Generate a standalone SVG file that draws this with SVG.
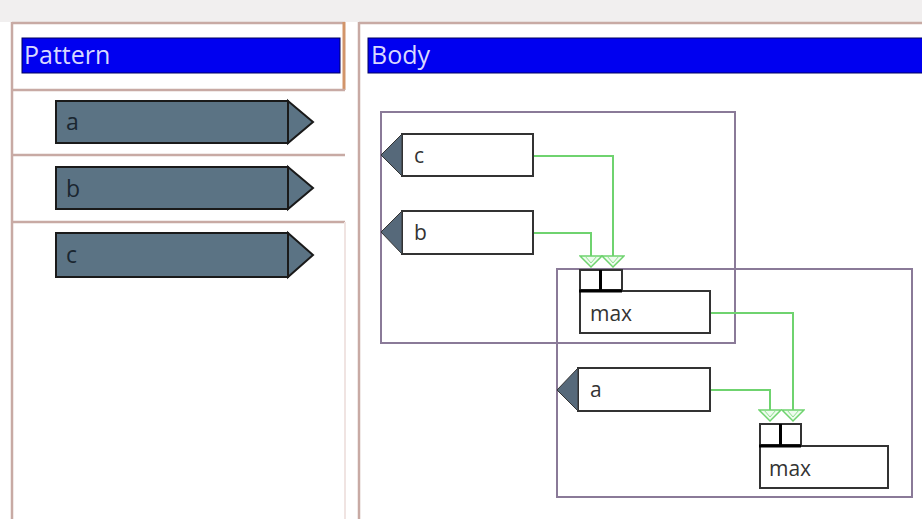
<svg xmlns="http://www.w3.org/2000/svg" width="922" height="519" viewBox="0 0 922 519">
<style>
.hdr{fill:#0000f0;stroke:#000060;stroke-width:1}
.hdrt{font-family:"Open Sans","DejaVu Sans",sans-serif;font-size:25px;fill:#d8d8ff}
.pat{fill:#5b7384;stroke:#1a1a1a;stroke-width:2}
.patt{font-family:"Open Sans","DejaVu Sans",sans-serif;font-size:23px;fill:#1a2630}
.box{fill:#ffffff;stroke:#333;stroke-width:2}
.lbl{font-family:"Open Sans","DejaVu Sans",sans-serif;font-size:21px;fill:#333}
.tri{fill:#56697a;stroke:#333;stroke-width:1}
.grp{fill:none;stroke:#8a7a98;stroke-width:2}
.wire{fill:none;stroke:#6fd36f;stroke-width:2}
.sep{stroke:#c8aaa4;stroke-width:2.5}
</style>
<defs>
<marker id="ah" markerWidth="24" markerHeight="14" refX="12" refY="12" orient="0" markerUnits="userSpaceOnUse">
<path d="M1,1 L23,1 L12,12 Z" fill="#eefbee" stroke="#6fd36f" stroke-width="1.5"/>
<path d="M6,1 L12,8 L18,1" fill="none" stroke="#8fe08f" stroke-width="1"/>
</marker>
</defs>
<rect x="0" y="0" width="922" height="519" fill="#ffffff"/>
<rect x="0" y="0" width="922" height="22" fill="#f1efef"/>
<g id="pattern-panel">
<line class="sep" x1="12" y1="23" x2="345" y2="23"/>
<line class="sep" x1="12" y1="22" x2="12" y2="519"/>
<line x1="344" y1="22" x2="344" y2="90" stroke="#d2956a" stroke-width="3"/>
<line class="sep" x1="12" y1="90" x2="345" y2="90"/>
<line class="sep" x1="12" y1="155" x2="345" y2="155"/>
<line class="sep" x1="12" y1="222" x2="345" y2="222"/>
<line x1="345" y1="222" x2="345" y2="519" stroke="#f0e4e2" stroke-width="2"/>
<rect class="hdr" x="22" y="38" width="318" height="35"/>
<text class="hdrt" x="24" y="64">Pattern</text>
</g>
<g id="pattern-a">
<rect class="pat" x="56" y="101" width="232" height="42"/>
<path class="pat" d="M288,101 L313,122 L288,143 Z"/>
<text class="patt" x="66" y="130">a</text>
</g>
<g id="pattern-b">
<rect class="pat" x="56" y="167" width="232" height="42"/>
<path class="pat" d="M288,167 L313,188 L288,209 Z"/>
<text class="patt" x="66" y="197">b</text>
</g>
<g id="pattern-c">
<rect class="pat" x="56" y="233" width="232" height="44"/>
<path class="pat" d="M288,233 L313,255 L288,277 Z"/>
<text class="patt" x="66" y="263">c</text>
</g>
<g id="body-panel">
<line class="sep" x1="359" y1="23" x2="922" y2="23"/>
<line class="sep" x1="359" y1="22" x2="359" y2="519"/>
<rect class="hdr" x="368" y="38" width="560" height="35"/>
<text class="hdrt" x="371" y="64">Body</text>
</g>
<g id="group-1">
<rect class="grp" x="381" y="112" width="354" height="231"/>
</g>
<g id="group-2">
<rect class="grp" x="557" y="269" width="355" height="228"/>
</g>
<g id="connectors">
<path class="wire" d="M533,156 H613 V267" marker-end="url(#ah)"/>
<path class="wire" d="M533,233 H591 V267" marker-end="url(#ah)"/>
<path class="wire" d="M710,313 H793 V421" marker-end="url(#ah)"/>
<path class="wire" d="M710,390 H770 V421" marker-end="url(#ah)"/>
</g>
<g id="node-c">
<rect class="box" x="402" y="134" width="131" height="42"/>
<path class="tri" d="M402,134 L381,155 L402,176 Z"/>
<text class="lbl" x="414" y="163">c</text>
</g>
<g id="node-b">
<rect class="box" x="402" y="211" width="131" height="43"/>
<path class="tri" d="M402,211 L381,232 L402,254 Z"/>
<text class="lbl" x="414" y="240">b</text>
</g>
<g id="node-max1">
<rect class="box" x="580" y="270" width="20" height="20"/>
<rect class="box" x="601" y="270" width="21" height="20"/>
<line x1="600.5" y1="270" x2="600.5" y2="291" stroke="#000" stroke-width="3"/>
<rect class="box" x="580" y="291" width="130" height="42"/>
<line x1="579" y1="291" x2="622" y2="291" stroke="#000" stroke-width="3"/>
<text class="lbl" x="590" y="321">max</text>
</g>
<g id="node-a">
<rect class="box" x="578" y="368" width="132" height="43"/>
<path class="tri" d="M578,368 L557,390 L578,411 Z"/>
<text class="lbl" x="590" y="397">a</text>
</g>
<g id="node-max2">
<rect class="box" x="760" y="424" width="20" height="21"/>
<rect class="box" x="781" y="424" width="20" height="21"/>
<line x1="780.5" y1="424" x2="780.5" y2="445" stroke="#000" stroke-width="3"/>
<rect class="box" x="760" y="446" width="128" height="42"/>
<line x1="759" y1="446" x2="801" y2="446" stroke="#000" stroke-width="3"/>
<text class="lbl" x="769" y="476">max</text>
</g>
</svg>
